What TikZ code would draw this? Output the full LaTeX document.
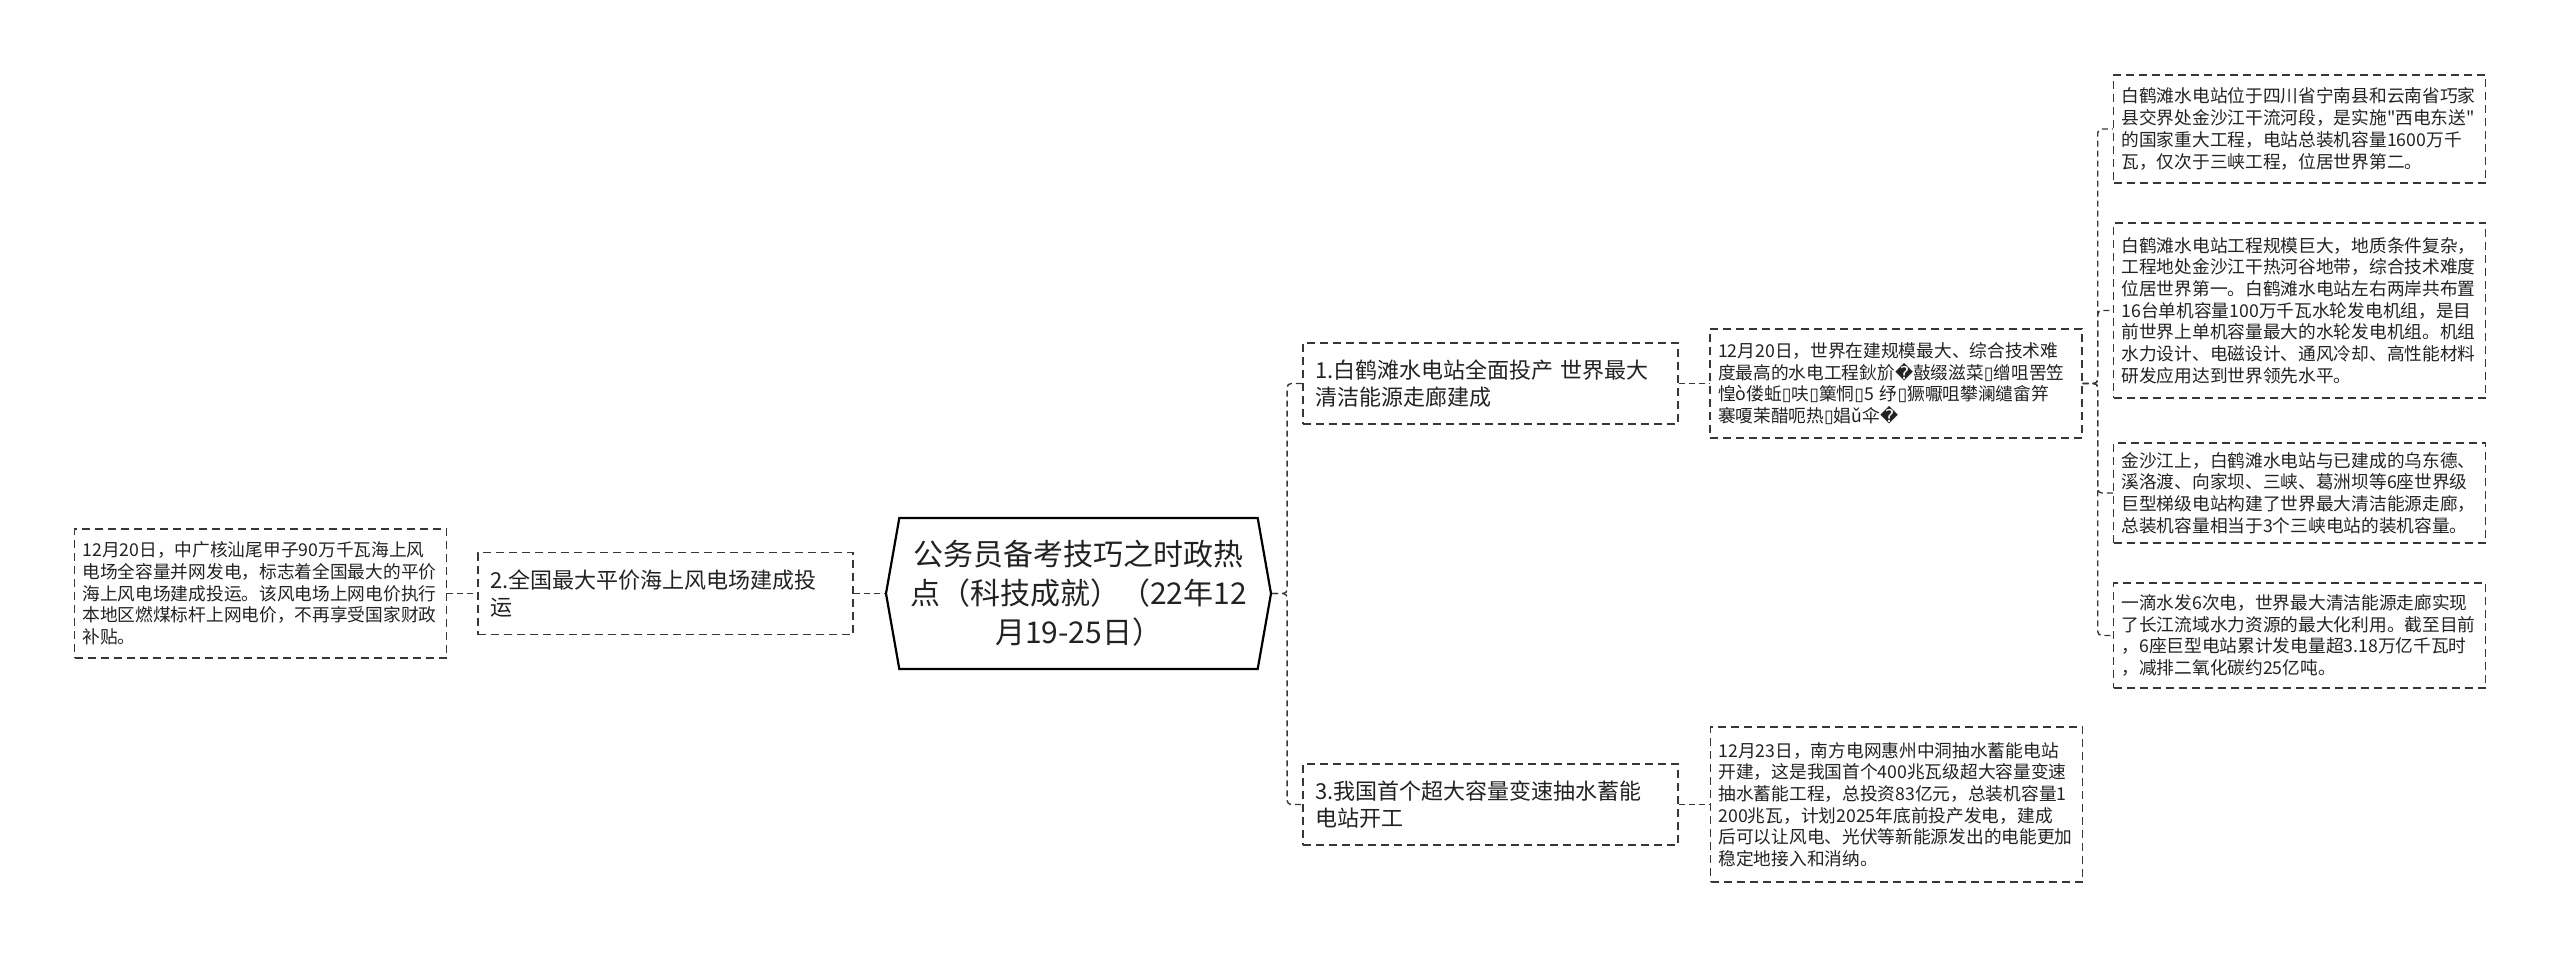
\documentclass[tikz,border=0pt]{standalone}
\usepackage{fontspec}
\setmainfont{Noto Sans CJK SC}[Ligatures=TeXOff]
\newfontfamily\dvfont{DejaVu Sans}
\usepackage{tikz}
\usetikzlibrary{shapes.symbols, positioning, calc}
\definecolor{ldark}{RGB}{34,34,34}
\definecolor{lline}{RGB}{55,55,55}
\newcommand{\bad}{{\dvfont\char"FFFD}}
\newcommand{\tofu}{{\dvfont\char"25AF}}

\begin{document}
\begin{tikzpicture}[
  x=0.5pt,y=-0.5pt,
  rootbox/.style={draw=black,line width=1.1pt,signal,signal to=west and east,
                  signal pointer angle=160,minimum width=192.5pt,minimum height=75.5pt,
                  align=center,text=ldark,inner sep=1pt,
                  font=\fontsize{15pt}{19.5pt}\selectfont},
  topic/.style={draw=lline,dash pattern=on 4pt off 2.5pt,line width=0.7pt,text=ldark,
                align=left,text width=175.5pt,inner xsep=6pt,inner ysep=2pt,
                minimum height=40.5pt,font=\fontsize{11pt}{13.3pt}\selectfont},
  leaf/.style={draw=lline,dash pattern=on 4pt off 2.5pt,line width=0.7pt,text=ldark,
               align=left,text width=178pt,inner xsep=4pt,inner ysep=2pt,
               font=\fontsize{8.85pt}{10.85pt}\selectfont},
  conn/.style={draw=lline,dash pattern=on 3pt off 2pt,line width=0.7pt,rounded corners=2pt}
]
  \useasboundingbox (0,0) rectangle (2560,957);

  \node[rootbox] (root) at (1078.5,593.5) {公务员备考技巧之时政热\\点（科技成就）（22年12\\月19-25日）};

  % left side
  \node[topic,minimum height=41pt] (t2) at (665.5,593.5) {2.全国最大平价海上风电场建成投\\运};
  \node[leaf,minimum height=64.5pt] (l2) at (260.5,593.5) {12月20日，中广核汕尾甲子90万千瓦海上风\\电场全容量并网发电，标志着全国最大的平价\\海上风电场建成投运。该风电场上网电价执行\\本地区燃煤标杆上网电价，不再享受国家财政\\补贴。};

  % right side
  \node[topic] (t1) at (1490.5,383.5) {1.白鹤滩水电站全面投产 世界最大\\清洁能源走廊建成};
  \node[topic] (t3) at (1490.5,804.5) {3.我国首个超大容量变速抽水蓄能\\电站开工};
  \node[leaf,minimum height=54.5pt] (l1) at (1896,383.5) {12月20日，世界在建规模最大、综合技术难\\度最高的水电工程鈥斺\bad 敼缀滋菜\tofu 缯咀罟笠\\惶ò偻蚯\tofu 呋\tofu 篥恫\tofu 5~纾\tofu 獗嚈咀攀澜缱畲笄\\褰嗄茉醋呃热\tofu 娼ǔ伞\bad};
  \node[leaf,minimum height=77.5pt] (l3) at (1896.5,804.5) {12月23日，南方电网惠州中洞抽水蓄能电站\\开建，这是我国首个400兆瓦级超大容量变速\\抽水蓄能工程，总投资83亿元，总装机容量1\\200兆瓦，计划2025年底前投产发电，建成\\后可以让风电、光伏等新能源发出的电能更加\\稳定地接入和消纳。};

  \node[leaf,minimum height=54pt] (a) at (2299.5,129) {白鹤滩水电站位于四川省宁南县和云南省巧家\\县交界处金沙江干流河段，是实施"西电东送"\\的国家重大工程，电站总装机容量1600万千\\瓦，仅次于三峡工程，位居世界第二。};
  \node[leaf,minimum height=87.5pt] (b) at (2299.5,310.5) {白鹤滩水电站工程规模巨大，地质条件复杂，\\工程地处金沙江干热河谷地带，综合技术难度\\位居世界第一。白鹤滩水电站左右两岸共布置\\16台单机容量100万千瓦水轮发电机组，是目\\前世界上单机容量最大的水轮发电机组。机组\\水力设计、电磁设计、通风冷却、高性能材料\\研发应用达到世界领先水平。};
  \node[leaf,minimum height=50pt] (c) at (2299.5,493) {金沙江上，白鹤滩水电站与已建成的乌东德、\\溪洛渡、向家坝、三峡、葛洲坝等6座世界级\\巨型梯级电站构建了世界最大清洁能源走廊，\\总装机容量相当于3个三峡电站的装机容量。};
  \node[leaf,minimum height=52.5pt] (d) at (2299.5,635.5) {一滴水发6次电，世界最大清洁能源走廊实现\\了长江流域水力资源的最大化利用。截至目前\\，6座巨型电站累计发电量超3.18万亿千瓦时\\，减排二氧化碳约25亿吨。};

  \draw[conn] (l2.east)--(t2.west);
  \draw[conn] (t2.east)--(root.west);
  \draw[conn] (root.east)--++(15,0)|-(t1.west);
  \draw[conn] (root.east)--++(15,0)|-(t3.west);
  \draw[conn] (t1.east)--(l1.west);
  \draw[conn] (t3.east)--(l3.west);
  \foreach \n in {a,b,c,d}
    \draw[conn] (l1.east)--++(15,0)|-(\n.west);
\end{tikzpicture}
\end{document}
